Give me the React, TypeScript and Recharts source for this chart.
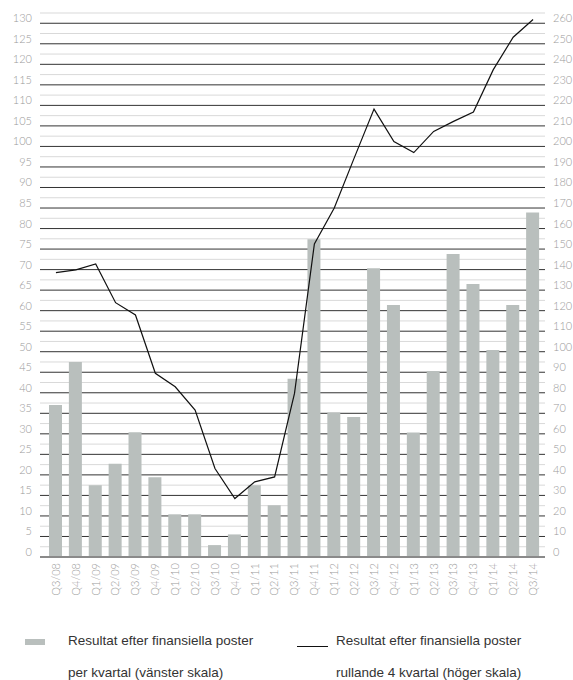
import { Bar, CartesianGrid, ComposedChart, Line, XAxis, YAxis } from "recharts";

const quarters = [
  "Q3/08", "Q4/08", "Q1/09", "Q2/09", "Q3/09", "Q4/09", "Q1/10", "Q2/10", "Q3/10",
  "Q4/10", "Q1/11", "Q2/11", "Q3/11", "Q4/11", "Q1/12", "Q2/12", "Q3/12", "Q4/12",
  "Q1/13", "Q2/13", "Q3/13", "Q4/13", "Q1/14", "Q2/14", "Q3/14",
];

// resultat per kvartal (vänster skala)
const perQuarter = [
  37.0, 47.5, 17.5, 22.7, 30.4, 19.4, 10.4, 10.4, 2.9,
  5.5, 17.5, 12.6, 43.4, 77.4, 35.2, 34.1, 70.3, 61.4,
  30.3, 45.3, 73.8, 66.5, 50.4, 61.4, 83.9,
];

// rullande 4 kvartal (höger skala)
const rolling4 = [
  138.5, 139.9, 142.8, 123.9, 117.9, 89.5, 82.9, 71.6, 43.1,
  28.5, 36.6, 39.0, 79.7, 152.5, 170.0, 194.3, 218.2, 202.4,
  197.0, 207.3, 212.2, 216.8, 237.4, 253.2, 261.8,
];

// vänster skala: linje var 2,5, etikett var 5
const leftTicks = [
  0, 2.5, 5, 7.5, 10, 12.5, 15, 17.5, 20, 22.5, 25, 27.5, 30, 32.5, 35, 37.5, 40, 42.5,
  45, 47.5, 50, 52.5, 55, 57.5, 60, 62.5, 65, 67.5, 70, 72.5, 75, 77.5, 80, 82.5, 85, 87.5,
  90, 92.5, 95, 97.5, 100, 102.5, 105, 107.5, 110, 112.5, 115, 117.5, 120, 122.5, 125, 127.5,
  130, 132.5,
];
const rightTicks = [0, 10, 20, 30, 40, 50, 60, 70, 80, 90, 100, 110, 120, 130, 140, 150, 160, 170, 180, 190, 200, 210, 220, 230, 240, 250, 260];

const data = quarters.map((q, i) => ({ q, bar: perQuarter[i], line: rolling4[i] }));

const tickFont = "Lato, 'DejaVu Sans', sans-serif";

const LeftTick = ({ x, y, payload }: any) =>
  payload.value % 5 === 0 ? (
    <text x={x} y={y - 1} textAnchor="end" fill="#9a9a9a" fontSize={11} fontFamily={tickFont} fontWeight={300}>
      {payload.value}
    </text>
  ) : (
    <g />
  );

const RightTick = ({ x, y, payload }: any) => (
  <text x={x} y={y - 1} textAnchor="start" fill="#9a9a9a" fontSize={11} fontFamily={tickFont} fontWeight={300}>
    {payload.value}
  </text>
);

const QuarterTick = ({ x, payload }: any) => (
  <text
    x={x}
    y={563}
    dy="0.35em"
    transform={`rotate(-90, ${x}, 563)`}
    textAnchor="end"
    fill="#9a9a9a"
    fontSize={11}
    fontFamily={tickFont}
    fontWeight={300}
  >
    {payload.value}
  </text>
);

const GridLine = ({ x1, x2, y1, y2, index }: any) => {
  const major = leftTicks[index] % 5 === 0;
  return <line x1={x1} x2={x2} y1={y1} y2={y2} stroke={major ? "#333" : "#d9d9d9"} strokeWidth={1} />;
};

const legendText = {
  position: "absolute" as const,
  fontFamily: "'Liberation Sans', Arial, sans-serif",
  fontSize: 13.5,
  color: "#333",
  lineHeight: "32px",
  whiteSpace: "nowrap" as const,
};

export default function App() {
  return (
    <div style={{ position: "absolute", left: 0, top: 0, width: 573, height: 680, background: "#fff" }}>
      <ComposedChart width={573} height={620} data={data} margin={{ top: 13, right: 0, bottom: 0, left: 0 }}>
        <CartesianGrid yAxisId="left" vertical={false} horizontal={(p: any) => <GridLine {...p} />} />
        <XAxis
          dataKey="q"
          interval={0}
          height={63}
          padding={{ left: 6, right: 2 }}
          tickLine={false}
          axisLine={{ stroke: "#8a8a8a", strokeWidth: 2 }}
          tick={<QuarterTick />}
        />
        <YAxis
          yAxisId="left"
          width={40}
          domain={[0, 132.5]}
          ticks={leftTicks}
          interval={0}
          axisLine={false}
          tickLine={false}
          tick={<LeftTick />}
        />
        <YAxis
          yAxisId="right"
          orientation="right"
          width={28}
          domain={[0, 265]}
          ticks={rightTicks}
          interval={0}
          axisLine={false}
          tickLine={false}
          tick={<RightTick />}
        />
        <Bar yAxisId="left" dataKey="bar" fill="#b9bfbd" barSize={13} isAnimationActive={false} />
        <Line
          yAxisId="right"
          dataKey="line"
          type="linear"
          stroke="#111"
          strokeWidth={1.2}
          dot={false}
          activeDot={false}
          isAnimationActive={false}
        />
      </ComposedChart>
      <div style={{ position: "absolute", left: 25, top: 639, width: 20, height: 6, background: "#b9bfbd" }} />
      <div style={{ ...legendText, left: 68, top: 625 }}>
        Resultat efter finansiella poster
        <br />
        per kvartal (vänster skala)
      </div>
      <div style={{ position: "absolute", left: 297, top: 646, width: 31, height: 1, background: "#111" }} />
      <div style={{ ...legendText, left: 336, top: 625 }}>
        Resultat efter finansiella poster
        <br />
        rullande 4 kvartal (höger skala)
      </div>
    </div>
  );
}
